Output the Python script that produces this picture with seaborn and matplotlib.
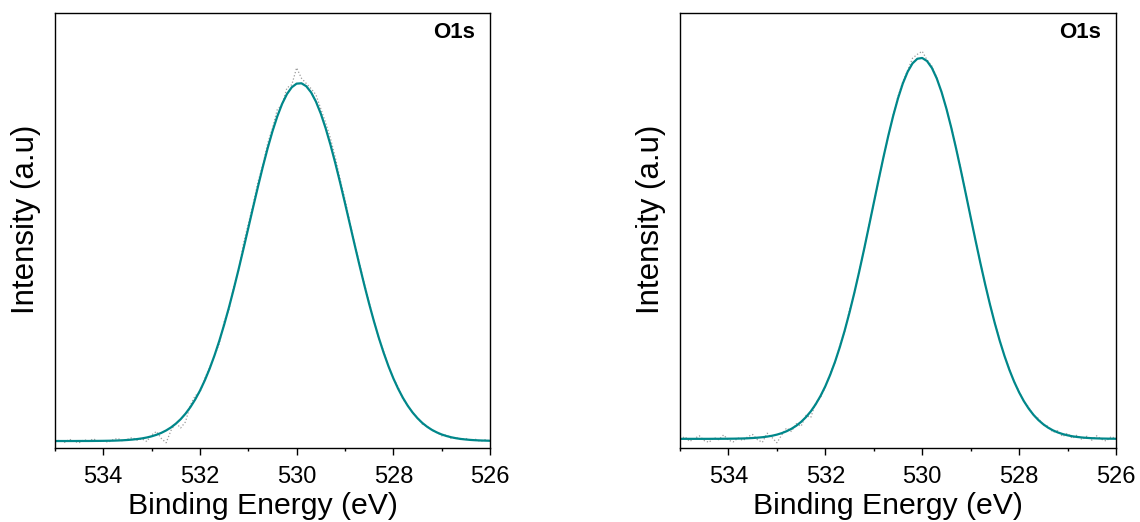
import numpy as np
import pandas as pd
import matplotlib
matplotlib.use("Agg")
import matplotlib.pyplot as plt
from matplotlib.ticker import MultipleLocator
import seaborn as sns

# ---- O 1s spectra: measured counts and fitted envelope, both on a 0.1 eV grid ----
energy = np.linspace(535.0, 526.0, 91)

raw_a = [0.014, 0.018, 0.013, 0.020, 0.015, 0.012, 0.019, 0.016, 0.021, 0.014,
         0.017, 0.013, 0.019, 0.022, 0.016, 0.020, 0.024, 0.018, 0.021, 0.015,
         0.030, 0.038, 0.022, 0.012, 0.040, 0.058, 0.046, 0.060, 0.098, 0.120,
         0.128, 0.160, 0.185, 0.212, 0.240, 0.290, 0.318, 0.372, 0.408, 0.470,
         0.515, 0.560, 0.612, 0.650, 0.700, 0.735, 0.778, 0.790, 0.828, 0.835,
         0.874, 0.850, 0.838, 0.826, 0.812, 0.780, 0.748, 0.712, 0.668, 0.618,
         0.572, 0.520, 0.470, 0.425, 0.378, 0.335, 0.292, 0.252, 0.222, 0.188,
         0.160, 0.140, 0.112, 0.098, 0.080, 0.070, 0.055, 0.050, 0.040, 0.036,
         0.028, 0.030, 0.022, 0.024, 0.019, 0.022, 0.017, 0.020, 0.015, 0.019,
         0.016]

fit_a = [0.0160, 0.0160, 0.0160, 0.0160, 0.0160, 0.0161, 0.0161, 0.0161, 0.0162, 0.0163,
         0.0164, 0.0166, 0.0168, 0.0172, 0.0177, 0.0184, 0.0193, 0.0205, 0.0220, 0.0241,
         0.0268, 0.0303, 0.0347, 0.0403, 0.0472, 0.0558, 0.0661, 0.0787, 0.0936, 0.1112,
         0.1317, 0.1553, 0.1822, 0.2125, 0.2462, 0.2831, 0.3232, 0.3659, 0.4110, 0.4578,
         0.5056, 0.5535, 0.6007, 0.6462, 0.6889, 0.7279, 0.7623, 0.7912, 0.8137, 0.8293,
         0.8376, 0.8384, 0.8316, 0.8174, 0.7962, 0.7686, 0.7352, 0.6970, 0.6549, 0.6099,
         0.5630, 0.5152, 0.4673, 0.4203, 0.3748, 0.3315, 0.2910, 0.2534, 0.2190, 0.1880,
         0.1604, 0.1362, 0.1151, 0.0969, 0.0815, 0.0685, 0.0576, 0.0488, 0.0416, 0.0358,
         0.0311, 0.0275, 0.0246, 0.0224, 0.0207, 0.0195, 0.0185, 0.0178, 0.0173, 0.0169,
         0.0166]

raw_b = [0.020, 0.026, 0.015, 0.022, 0.028, 0.017, 0.013, 0.024, 0.019, 0.030,
         0.018, 0.014, 0.023, 0.017, 0.026, 0.031, 0.019, 0.013, 0.034, 0.024,
         0.012, 0.030, 0.046, 0.038, 0.056, 0.050, 0.075, 0.070, 0.104, 0.116,
         0.140, 0.172, 0.196, 0.236, 0.268, 0.318, 0.356, 0.408, 0.455, 0.512,
         0.562, 0.614, 0.668, 0.716, 0.765, 0.808, 0.842, 0.868, 0.896, 0.905,
         0.912, 0.892, 0.878, 0.852, 0.820, 0.780, 0.738, 0.690, 0.640, 0.586,
         0.530, 0.478, 0.426, 0.376, 0.330, 0.288, 0.248, 0.212, 0.182, 0.152,
         0.130, 0.106, 0.094, 0.074, 0.068, 0.052, 0.050, 0.036, 0.040, 0.026,
         0.034, 0.022, 0.030, 0.019, 0.027, 0.018, 0.028, 0.020, 0.016, 0.026,
         0.022]

fit_b = [0.0210, 0.0210, 0.0210, 0.0210, 0.0210, 0.0210, 0.0210, 0.0211, 0.0211, 0.0212,
         0.0213, 0.0214, 0.0216, 0.0219, 0.0223, 0.0229, 0.0237, 0.0247, 0.0262, 0.0281,
         0.0307, 0.0341, 0.0385, 0.0441, 0.0511, 0.0600, 0.0709, 0.0842, 0.1003, 0.1195,
         0.1419, 0.1681, 0.1981, 0.2321, 0.2700, 0.3119, 0.3572, 0.4057, 0.4567, 0.5095,
         0.5631, 0.6164, 0.6684, 0.7177, 0.7631, 0.8036, 0.8380, 0.8650, 0.8842, 0.8948,
         0.8966, 0.8895, 0.8737, 0.8497, 0.8182, 0.7800, 0.7364, 0.6884, 0.6374, 0.5844,
         0.5308, 0.4777, 0.4258, 0.3763, 0.3296, 0.2863, 0.2468, 0.2113, 0.1796, 0.1520,
         0.1280, 0.1075, 0.0903, 0.0759, 0.0641, 0.0545, 0.0467, 0.0405, 0.0357, 0.0320,
         0.0291, 0.0269, 0.0253, 0.0241, 0.0232, 0.0225, 0.0221, 0.0217, 0.0215, 0.0213,
         0.0212]

panels = [("O1s", raw_a, fit_a), ("O1s", raw_b, fit_b)]
xticks = [534, 532, 530, 528, 526]

sns.set_theme(style="ticks")
plt.rcParams["font.family"] = ["Liberation Sans", "DejaVu Sans"]
plt.rcParams.update({"text.color": "black", "axes.labelcolor": "black",
                     "xtick.color": "black", "ytick.color": "black"})

fig = plt.figure(figsize=(11.4, 5.22), dpi=100)
axes = [fig.add_axes([0.0482, 0.1418, 0.3816, 0.8333]),
        fig.add_axes([0.5965, 0.1418, 0.3824, 0.8333])]

for ax, (tag, raw, fit) in zip(axes, panels):
    df = pd.DataFrame({"energy": energy, "raw": raw, "fit": fit})
    sns.lineplot(data=df, x="energy", y="raw", ax=ax, color="#9c9c9c",
                 linewidth=0.9, linestyle=":", sort=False)
    sns.lineplot(data=df, x="energy", y="fit", ax=ax, color="#00878a",
                 linewidth=1.6, sort=False)
    ax.set_xlim(535, 526)
    ax.set_ylim(0, 1)
    ax.set_xticks(xticks)
    ax.set_xticklabels([str(t) for t in xticks])
    ax.xaxis.set_minor_locator(MultipleLocator(1))
    ax.set_yticks([])
    ax.tick_params(axis="x", which="major", direction="out", length=5, width=1,
                   labelsize=17, pad=8, color="black", labelcolor="black")
    ax.tick_params(axis="x", which="minor", direction="out", length=2.5, width=1,
                   color="black")
    for sp in ax.spines.values():
        sp.set_visible(True)
        sp.set_color("black")
        sp.set_linewidth(1.0)
    ax.set_xlabel("Binding Energy (eV)", fontsize=21.8)
    ax.xaxis.set_label_coords(0.478, -0.102)
    ax.set_ylabel("Intensity (a.u)", fontsize=22.5)
    ax.yaxis.set_label_coords(-0.031, 0.525)
    ax.text(0.965, 0.9425, tag, transform=ax.transAxes, ha="right", va="baseline",
            fontsize=16, fontweight="bold")

fig.savefig("out.png", dpi=100)
